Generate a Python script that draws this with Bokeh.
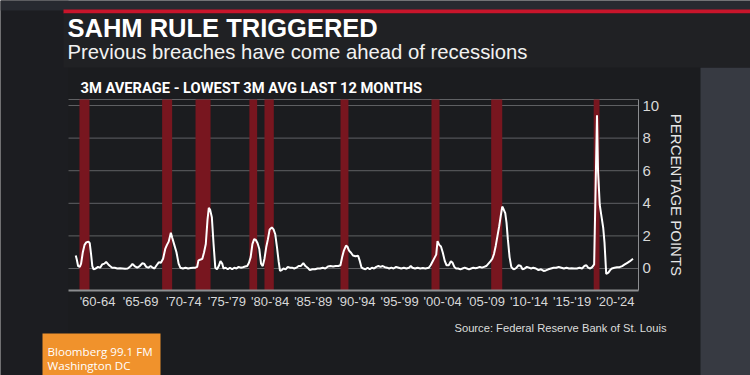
from bokeh.plotting import figure
from bokeh.models import BoxAnnotation, Label, FixedTicker, LinearAxis
from bokeh.embed import file_html
from bokeh.resources import INLINE

# ---------------- data ----------------
years = [
    1959.98, 1960.10, 1960.25, 1960.45, 1960.60, 1960.80, 1961.00, 1961.20, 1961.45, 1961.60,
    1961.75, 1961.90, 1962.05, 1962.30, 1962.55, 1962.80, 1963.05, 1963.30, 1963.50, 1963.75,
    1963.95, 1964.20, 1964.50, 1964.80, 1965.10, 1965.40, 1965.70, 1966.00, 1966.30, 1966.55,
    1966.80, 1967.10, 1967.40, 1967.70, 1967.90, 1968.15, 1968.40, 1968.65, 1968.90, 1969.10,
    1969.35, 1969.60, 1969.85, 1970.10, 1970.35, 1970.55, 1970.75, 1971.00, 1971.15, 1971.40,
    1971.65, 1971.90, 1972.10, 1972.40, 1972.70, 1973.00, 1973.30, 1973.60, 1973.85, 1974.05,
    1974.20, 1974.45, 1974.65, 1974.85, 1975.05, 1975.25, 1975.40, 1975.55, 1975.75, 1975.95,
    1976.15, 1976.35, 1976.55, 1976.75, 1976.95, 1977.10, 1977.35, 1977.60, 1977.85, 1978.10,
    1978.35, 1978.60, 1978.85, 1979.10, 1979.35, 1979.60, 1979.85, 1980.05, 1980.25, 1980.45,
    1980.65, 1980.85, 1981.05, 1981.25, 1981.45, 1981.65, 1981.85, 1982.05, 1982.25, 1982.45,
    1982.70, 1982.90, 1983.10, 1983.30, 1983.50, 1983.65, 1983.85, 1984.05, 1984.30, 1984.55,
    1984.80, 1985.05, 1985.30, 1985.55, 1985.80, 1986.05, 1986.35, 1986.60, 1986.85, 1987.10,
    1987.40, 1987.70, 1988.00, 1988.30, 1988.60, 1988.90, 1989.20, 1989.50, 1989.80, 1990.10,
    1990.40, 1990.65, 1990.85, 1991.05, 1991.30, 1991.45, 1991.65, 1991.90, 1992.10, 1992.40,
    1992.70, 1992.90, 1993.10, 1993.30, 1993.55, 1993.80, 1994.05, 1994.30, 1994.55, 1994.80,
    1995.05, 1995.30, 1995.55, 1995.80, 1996.05, 1996.30, 1996.55, 1996.80, 1997.10, 1997.40,
    1997.70, 1998.00, 1998.30, 1998.60, 1998.80, 1999.00, 1999.30, 1999.60, 1999.90, 2000.20,
    2000.50, 2000.90, 2001.10, 2001.30, 2001.55, 2001.75, 2001.90, 2002.10, 2002.30, 2002.50,
    2002.75, 2002.95, 2003.20, 2003.45, 2003.65, 2003.85, 2004.05, 2004.30, 2004.55, 2004.80,
    2005.05, 2005.30, 2005.55, 2005.80, 2006.05, 2006.30, 2006.55, 2006.80, 2007.05, 2007.30,
    2007.55, 2007.80, 2008.05, 2008.25, 2008.45, 2008.65, 2008.85, 2009.05, 2009.25, 2009.40,
    2009.55, 2009.75, 2009.90, 2010.05, 2010.25, 2010.45, 2010.60, 2010.80, 2011.05, 2011.30,
    2011.55, 2011.75, 2012.00, 2012.25, 2012.50, 2012.75, 2013.00, 2013.30, 2013.60, 2013.90,
    2014.20, 2014.45, 2014.75, 2015.05, 2015.35, 2015.65, 2015.95, 2016.25, 2016.55, 2016.85,
    2017.15, 2017.45, 2017.75, 2018.05, 2018.35, 2018.65, 2018.90, 2019.15, 2019.35, 2019.60,
    2019.85, 2020.05, 2020.38, 2020.50, 2020.70, 2020.90, 2021.10, 2021.25, 2021.45, 2021.70,
    2021.90, 2022.10, 2022.40, 2022.70, 2023.00, 2023.30, 2023.60, 2023.90, 2024.20, 2024.55,
]
sahm = [
    0.80, 0.55, 0.15, 0.10, 0.30, 1.00, 1.45, 1.60, 1.65, 1.55,
    0.90, 0.15, -0.05, 0.00, 0.10, 0.05, 0.25, 0.30, 0.40, 0.25,
    0.15, 0.05, 0.05, 0.00, 0.02, 0.00, -0.02, 0.00, 0.12, 0.28,
    0.15, 0.05, 0.15, 0.32, 0.30, 0.10, 0.05, 0.15, 0.05, 0.00,
    0.20, 0.38, 0.35, 0.60, 1.20, 1.45, 1.65, 2.20, 1.90, 1.45,
    1.00, 0.30, 0.05, 0.00, 0.05, 0.00, 0.03, 0.05, 0.05, 0.10,
    0.50, 0.55, 0.60, 1.00, 1.50, 3.00, 3.72, 3.60, 3.15, 1.50,
    0.05, -0.05, 0.15, 0.45, 0.30, 0.00, 0.05, -0.05, 0.05, -0.05,
    0.05, 0.00, 0.10, 0.05, 0.08, 0.12, 0.15, 0.35, 0.70, 1.50,
    1.80, 1.75, 1.55, 1.20, 0.30, 0.15, 0.60, 1.30, 1.80, 2.40,
    2.52, 2.40, 2.10, 1.30, 0.40, -0.15, -0.10, 0.00, -0.05, 0.10,
    0.05, 0.05, 0.00, 0.05, 0.15, 0.15, 0.33, 0.15, 0.05, -0.10,
    -0.05, -0.05, 0.00, 0.00, 0.05, 0.00, 0.12, 0.15, 0.12, 0.15,
    0.15, 0.20, 0.70, 1.10, 1.40, 1.35, 1.10, 0.95, 0.80, 0.75,
    0.78, 0.45, 0.05, 0.00, -0.05, 0.05, -0.05, 0.05, 0.00, 0.10,
    0.15, 0.10, 0.15, 0.08, 0.05, 0.00, 0.05, 0.00, 0.10, 0.05,
    0.00, 0.05, 0.00, 0.05, 0.15, 0.05, 0.00, 0.05, 0.00, 0.03,
    0.00, 0.05, 0.20, 0.40, 0.65, 0.85, 1.68, 1.45, 1.35, 1.00,
    0.45, 0.20, 0.20, 0.45, 0.35, 0.10, 0.00, 0.00, -0.05, 0.00,
    0.05, 0.00, -0.05, 0.00, 0.05, 0.02, 0.05, 0.10, 0.05, 0.10,
    0.15, 0.30, 0.45, 0.60, 0.90, 1.40, 2.00, 2.60, 3.30, 3.80,
    3.65, 3.40, 2.80, 1.80, 0.70, 0.10, 0.00, -0.05, 0.05, 0.20,
    0.15, -0.05, 0.00, 0.10, 0.05, 0.00, 0.05, 0.00, -0.10, -0.05,
    -0.15, -0.12, -0.05, 0.00, 0.05, 0.05, 0.10, 0.05, 0.00, 0.05,
    0.00, 0.02, 0.00, 0.00, 0.05, 0.00, 0.15, 0.20, 0.05, 0.00,
    0.10, 0.25, 9.40, 6.00, 3.90, 3.20, 2.50, 1.60, -0.33, -0.25,
    -0.10, 0.00, 0.05, 0.08, 0.08, 0.15, 0.25, 0.35, 0.45, 0.60,
]
rec_start = [1960.41, 1969.99, 1973.86, 1980.10, 1981.85, 1990.66, 2001.20, 2008.12, 2020.00]
rec_end = [1961.57, 1971.15, 1975.60, 1981.00, 1982.93, 1991.58, 2002.13, 2009.40, 2020.67]

period_start = [1960, 1965, 1970, 1975, 1980, 1985, 1990, 1995, 2000, 2005, 2010, 2015, 2020]
period_labels = ["'60-64", "'65-69", "'70-74", "'75-'79", "'80-'84", "'85-'89", "'90-'94",
                 "'95-'99", "'00-'04", "'05-'09", "'10-'14", "'15-'19", "'20-'24"]
y_ticks = [0, 2, 4, 6, 8, 10]

title_text = "SAHM RULE TRIGGERED"
subtitle_text = "Previous breaches have come ahead of recessions"
chart_title = "3M AVERAGE - LOWEST 3M AVG LAST 12 MONTHS"
y_label = "PERCENTAGE POINTS"
source_text = "Source: Federal Reserve Bank of St. Louis"
badge_lines = ["Bloomberg 99.1 FM", "Washington DC"]

# ---------------- layout / style ----------------
W, H = 750, 375
FL, FR, FT, FB = 68, 638, 99, 290          # chart area edges in canvas pixels
X0, X1 = 1959.14, 2025.19                  # chart x extent (years)
Y0, Y1 = -1.35, 10.37                      # chart y extent (points)
KX = (FR - FL) / (X1 - X0)
KY = (FB - FT) / (Y1 - Y0)
XR = (X0 - FL / KX, X1 + (W - FR) / KX)    # ranges covering the whole canvas
YR = (Y0 - (H - FB) / KY, Y1 + FT / KY)

PANEL = "#1b1c1f"
TITLE_PANEL = "#202124"
OUT_LEFT = "#1c1d21"
OUT_TOP = "#272a30"
OUT_RIGHT = "#373a42"
RED = "#c8152b"
BAR = "#78161f"
GRID = "#606164"
AXIS = "#8c8d90"
TICK_TEXT = "#d8d8d8"
ORANGE = "#f0922c"
FONT = "Liberation Sans"

p = figure(width=W, height=H, output_backend="svg", toolbar_location=None,
           x_range=XR, y_range=YR, x_axis_type=None, y_axis_type=None,
           min_border=0, min_border_left=0, min_border_right=0,
           min_border_top=0, min_border_bottom=0)
p.background_fill_color = PANEL
p.border_fill_color = PANEL
p.outline_line_color = None
p.title.visible = False


def box(x0, y0, x1, y1, color, level="underlay"):
    b = BoxAnnotation(left=x0, right=x1, top=H - y0, bottom=H - y1,
                      left_units="screen", right_units="screen",
                      top_units="screen", bottom_units="screen",
                      fill_color=color, fill_alpha=1.0, line_color=None, level=level)
    p.add_layout(b)


# outer background and panels
box(0, 0, FL, H, OUT_LEFT)
box(0, 0, W, 10, OUT_TOP)
box(700, 67, W, H, OUT_RIGHT)
box(63, 9, W, 13, RED)
box(63, 13, W, 67, TITLE_PANEL)
box(42, 333, 160, H, ORANGE, level="annotation")

# grid lines (chart width only) and top border
p.segment(x0=X0, x1=X1, y0=y_ticks, y1=y_ticks, line_color=GRID, line_width=1)
p.segment(x0=[X0], x1=[X1], y0=[Y1], y1=[Y1], line_color=GRID, line_width=1)

# recession bars and line
p.quad(left=rec_start, right=rec_end, bottom=Y0, top=Y1,
       fill_color=BAR, line_color=None)
p.line(years, sahm, line_color="white", line_width=2)

# axes drawn at fixed locations inside the canvas
mids = [s + 2.5 for s in period_start]
xaxis = LinearAxis(fixed_location=Y0, bounds=(X0, X1),
                   ticker=FixedTicker(ticks=mids),
                   major_label_overrides={m: lab for m, lab in zip(mids, period_labels)})
xaxis.major_tick_line_color = None
xaxis.minor_tick_line_color = None
xaxis.major_tick_out = 0
xaxis.major_tick_in = 0
xaxis.minor_tick_out = 0
xaxis.minor_tick_in = 0
xaxis.axis_line_color = AXIS
xaxis.axis_line_width = 2
xaxis.major_label_standoff = 3
xaxis.major_label_text_color = TICK_TEXT
xaxis.major_label_text_font = FONT
xaxis.major_label_text_font_size = "13px"
p.add_layout(xaxis, "below")

yaxis = LinearAxis(fixed_location=X1, bounds=(Y0, Y1), ticker=FixedTicker(ticks=y_ticks))
yaxis.major_tick_line_color = None
yaxis.minor_tick_line_color = None
yaxis.major_tick_out = 0
yaxis.major_tick_in = 0
yaxis.minor_tick_out = 0
yaxis.minor_tick_in = 0
yaxis.axis_line_color = AXIS
yaxis.axis_line_width = 1
yaxis.major_label_standoff = 4
yaxis.major_label_text_color = TICK_TEXT
yaxis.major_label_text_font = FONT
yaxis.major_label_text_font_size = "15px"
yaxis.axis_label = y_label
yaxis.axis_label_text_color = "#e6e6e6"
yaxis.axis_label_text_font = FONT
yaxis.axis_label_text_font_size = "15px"
yaxis.axis_label_text_font_style = "normal"
yaxis.axis_label_standoff = 6
p.add_layout(yaxis, "right")


def label(X, Y, text, size, color="white", style="normal", align="left", font=FONT):
    p.add_layout(Label(x=X, y=H - Y, x_units="screen", y_units="screen", text=text,
                       text_font=font, text_font_size=size, text_font_style=style,
                       text_color=color, text_align=align, text_baseline="middle"))


label(67, 27, title_text, "25.5px", style="bold")
label(67, 51, subtitle_text, "20.3px", color="#f2f2f2")
label(80, 87.5, chart_title, "14.7px", style="bold", font="Roboto")
label(666, 327, source_text, "11.2px", color="#dcdcdc", align="right")
label(47, 351, badge_lines[0], "11.6px", font="Open Sans")
label(47, 365, badge_lines[1], "11.6px", font="Open Sans")

open("out.html", "w").write(file_html(p, INLINE))
